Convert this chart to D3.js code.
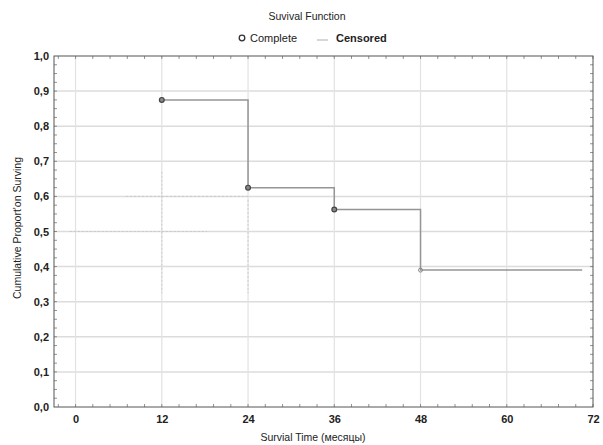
<!DOCTYPE html>
<html><head><meta charset="utf-8">
<script src="https://cdn.jsdelivr.net/npm/d3@7"></script>
<style>
html,body{margin:0;padding:0;background:#fff;}
text{font-family:"Liberation Sans",Arial,sans-serif;fill:#222;}
</style></head>
<body><svg id="c" width="603" height="445"></svg>
<script>
// ---- data ----
const eventTimes = [12, 24, 36, 48];
const survival = [0.875, 0.625, 0.5625, 0.39];
const lastTime = 70.5;
const xTicks = [0, 12, 24, 36, 48, 60, 72];
const yTicks = [0, 0.1, 0.2, 0.3, 0.4, 0.5, 0.6, 0.7, 0.8, 0.9, 1.0];
const title = "Suvival Function";
const legendLabels = ["Complete", "Censored"];
const xLabel = "Survial Time (месяцы)";
const yLabel = "Cumulative Proport'on Surving";
// faint dotted reference segments seen in the picture: [x1,y1,x2,y2] in data units
const dottedSegs = [[-0.8,0.5,18.3,0.5],[7,0.6,24.3,0.6],[12,0.67,12,0.325],[24,0.59,24,0.325]];

const svg = d3.select("#c");
const L=54, R=593, T=56, B=407;
const x = d3.scaleLinear().domain([-3,72]).range([L,R]);
const y = d3.scaleLinear().domain([0,1]).range([B,T]);
const fmt = d => d.toFixed(1).replace(".", ",");

// gridlines
svg.append("g").selectAll("line").data(yTicks.slice(1,-1)).join("line")
  .attr("x1",L).attr("x2",R).attr("y1",d=>y(d)).attr("y2",d=>y(d))
  .attr("stroke","#dcdcdc").attr("stroke-width",1.5);
svg.append("g").selectAll("line").data(xTicks.slice(0,-1)).join("line")
  .attr("x1",d=>x(d)).attr("x2",d=>x(d)).attr("y1",T).attr("y2",B)
  .attr("stroke","#e2e2e2").attr("stroke-width",1.2);
svg.append("g").selectAll("line").data(dottedSegs).join("line")
  .attr("x1",d=>x(d[0])).attr("y1",d=>y(d[1])).attr("x2",d=>x(d[2])).attr("y2",d=>y(d[3]))
  .attr("stroke","#c4c4c4").attr("stroke-width",0.8).attr("stroke-dasharray","2,2");

// minor ticks inside frame
const xMinor = d3.range(-2.4, 72, 2.4);
const yMinor = d3.range(0.025, 1, 0.025);
const tk = svg.append("g").attr("stroke","#777").attr("stroke-width",0.8);
tk.selectAll(".xb").data(xMinor).join("line").attr("class","xb").attr("x1",d=>x(d)).attr("x2",d=>x(d)).attr("y1",B).attr("y2",B-3);
tk.selectAll(".xt").data(xMinor).join("line").attr("class","xt").attr("x1",d=>x(d)).attr("x2",d=>x(d)).attr("y1",T).attr("y2",T+3);
tk.selectAll(".yl").data(yMinor).join("line").attr("class","yl").attr("x1",L).attr("x2",L+3).attr("y1",d=>y(d)).attr("y2",d=>y(d));
tk.selectAll(".yr").data(yMinor).join("line").attr("class","yr").attr("x1",R).attr("x2",R-3).attr("y1",d=>y(d)).attr("y2",d=>y(d));

// frame
svg.append("rect").attr("x",L).attr("y",T).attr("width",R-L).attr("height",B-T)
  .attr("fill","none").attr("stroke","#555").attr("stroke-width",1);

// axes labels via d3 axes
const xAxis = svg.append("g").attr("transform",`translate(0,${B})`)
  .call(d3.axisBottom(x).tickValues(xTicks).tickSize(0).tickPadding(8).tickFormat(d3.format("d")));
xAxis.select(".domain").remove();
xAxis.selectAll("text").attr("font-size",11).attr("font-weight","bold").attr("fill","#333");
const yAxis = svg.append("g").attr("transform",`translate(${L},0)`)
  .call(d3.axisLeft(y).tickValues(yTicks).tickSize(0).tickPadding(5).tickFormat(fmt));
yAxis.select(".domain").remove();
yAxis.selectAll("text").attr("font-size",11).attr("font-weight","bold").attr("fill","#333");

// step line
const pts = eventTimes.map((t,i)=>[t,survival[i]]).concat([[lastTime, survival[survival.length-1]]]);
svg.append("path").datum(pts)
  .attr("d", d3.line().x(d=>x(d[0])).y(d=>y(d[1])).curve(d3.curveStepAfter))
  .attr("fill","none").attr("stroke","#959595").attr("stroke-width",1.5);

// markers
svg.append("g").selectAll("circle").data(eventTimes.slice(0,3)).join("circle")
  .attr("cx",d=>x(d)).attr("cy",(d,i)=>y(survival[i])).attr("r",2.4)
  .attr("fill","#888").attr("stroke","#444").attr("stroke-width",1.2);
svg.append("circle").attr("cx",x(eventTimes[3])).attr("cy",y(survival[3])).attr("r",2)
  .attr("fill","none").attr("stroke","#888").attr("stroke-width",1);

// title & legend
svg.append("text").attr("x",307).attr("y",20).attr("text-anchor","middle").attr("font-size",10.5).attr("fill","#111").text(title);
svg.append("circle").attr("cx",242).attr("cy",38).attr("r",2.8).attr("fill","none").attr("stroke","#333").attr("stroke-width",1.3);
svg.append("text").attr("x",250).attr("y",42).attr("font-size",11).attr("fill","#111").text(legendLabels[0]);
svg.append("line").attr("x1",317).attr("x2",328).attr("y1",40).attr("y2",40).attr("stroke","#bbb").attr("stroke-width",1.2);
svg.append("text").attr("x",336).attr("y",42).attr("font-size",11).attr("font-weight","bold").attr("fill","#333").text(legendLabels[1]);

// axis titles
svg.append("text").attr("x",313).attr("y",441).attr("text-anchor","middle").attr("font-size",10.5).attr("fill","#111").text(xLabel);
svg.append("text").attr("transform","translate(21,228) rotate(-90)").attr("text-anchor","middle").attr("font-size",10.5).attr("fill","#111").text(yLabel);
</script></body></html>
